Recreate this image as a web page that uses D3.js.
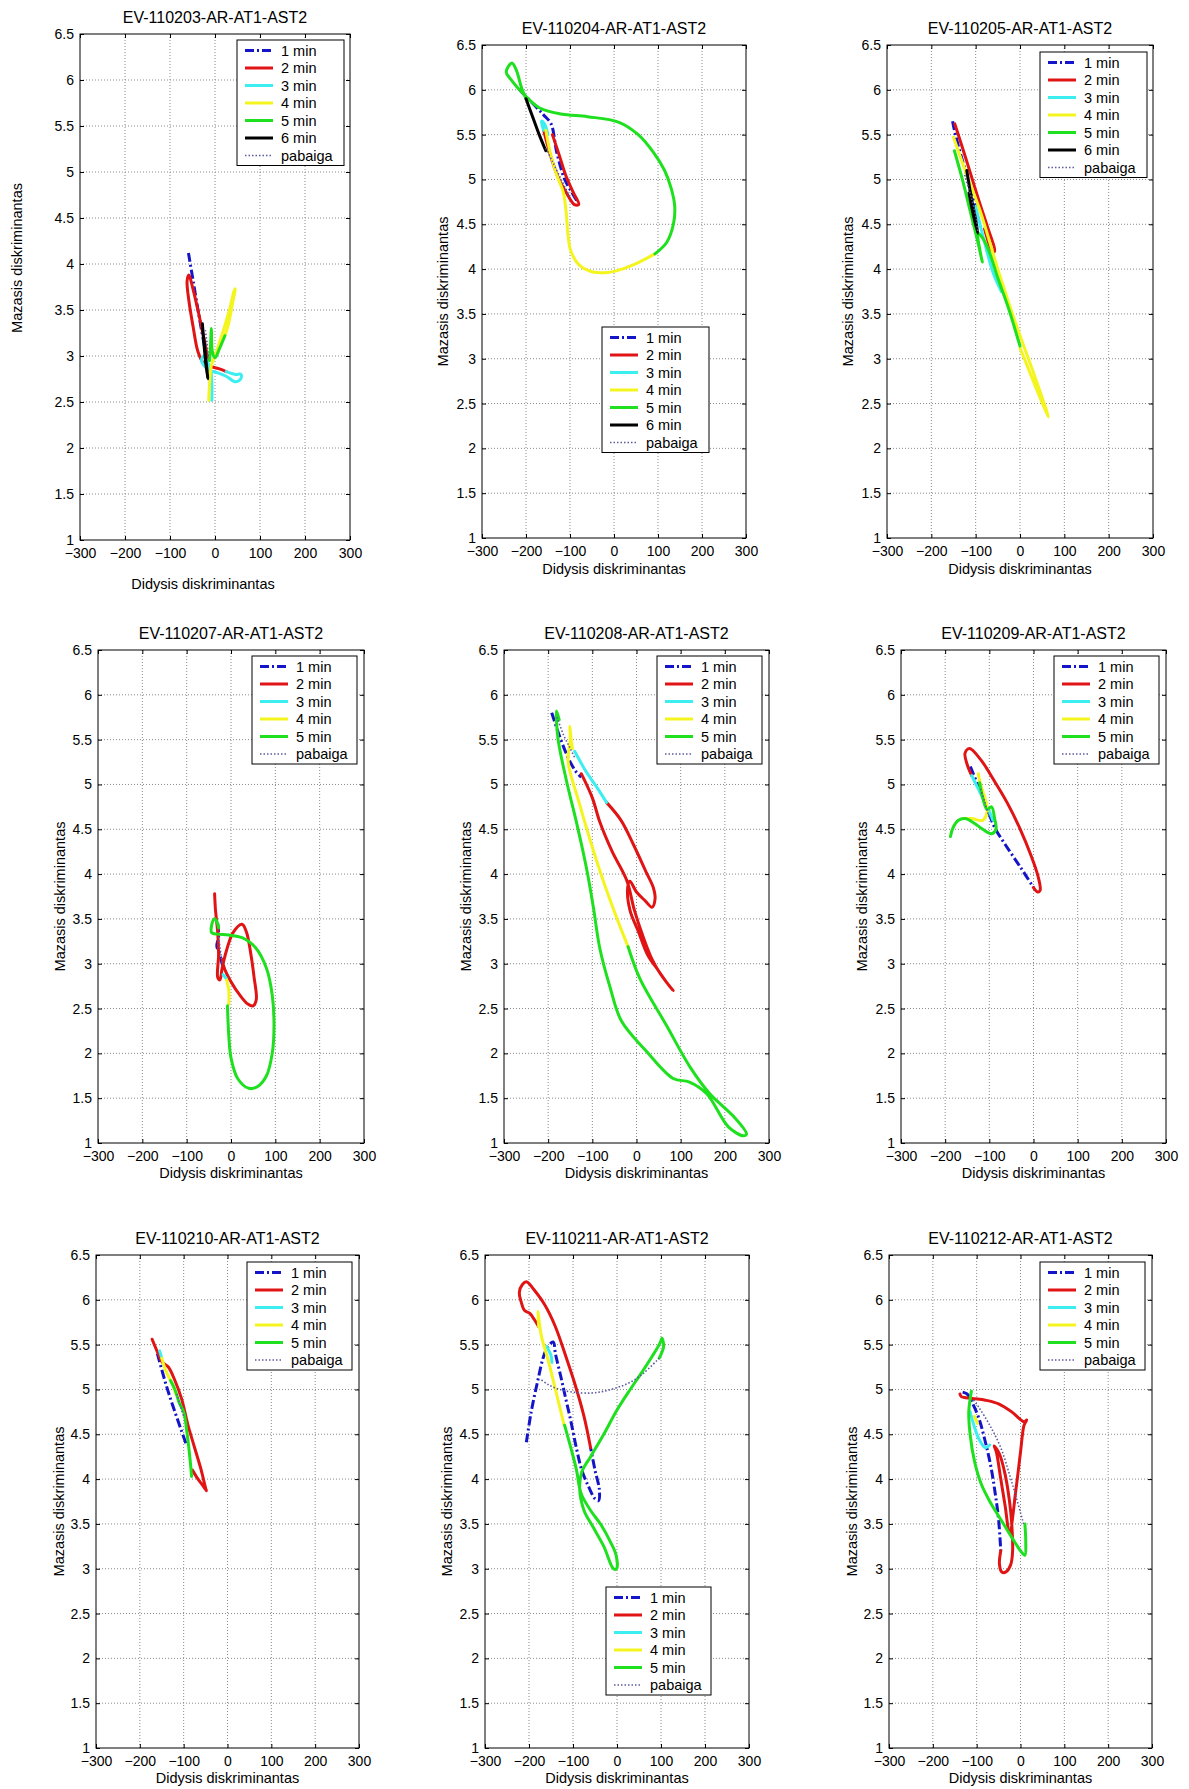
<!DOCTYPE html>
<html>
<head>
<meta charset="utf-8">
<script src="https://cdn.jsdelivr.net/npm/d3@7"></script>
<style>
  body { margin: 0; background: #fff; }
  svg { display: block; font-family: "Liberation Sans", Arial, sans-serif; }
</style>
</head>
<body>
<div id="chart"></div>
<script>
  // Axis ticks and legend labels
  var xTicks = [-300, -200, -100, 0, 100, 200, 300];
  var yTicks = [1, 1.5, 2, 2.5, 3, 3.5, 4, 4.5, 5, 5.5, 6, 6.5];
  var seriesNames = ["1 min", "2 min", "3 min", "4 min", "5 min", "6 min", "pabaiga"];
  var titles = ["EV-110203-AR-AT1-AST2", "EV-110204-AR-AT1-AST2", "EV-110205-AR-AT1-AST2",
                "EV-110207-AR-AT1-AST2", "EV-110208-AR-AT1-AST2", "EV-110209-AR-AT1-AST2",
                "EV-110210-AR-AT1-AST2", "EV-110211-AR-AT1-AST2", "EV-110212-AR-AT1-AST2"];

  // Trajectories [didysis, mazasis], one object per panel, keyed by legend name
  var ev110203 = {
    "1 min": [[-59,4.12],[-48,3.8],[-36,3.45],[-25,3.15],[-15,2.9]],
    "2 min": [[-15,2.95],[-25,3.2],[-38,3.5],[-50,3.75],[-58,3.88],[-62,3.82],[-58,3.6],[-48,3.3],[-38,3.05],[-25,2.92],[-5,2.88],[10,2.86],[25,2.83]],
    "3 min": [[25,2.83],[45,2.8],[58,2.8],[57,2.75],[45,2.72],[25,2.78],[5,2.82],[-15,2.85],[-30,2.95],[-25,3.0],[-10,2.85],[-7,2.7],[-7,2.52]],
    "4 min": [[-14,2.52],[-12,2.7],[-8,2.9],[0,3.0],[10,3.15],[20,3.3],[32,3.5],[42,3.7],[45,3.73],[38,3.55],[30,3.35],[22,3.22]],
    "5 min": [[22,3.22],[10,3.08],[0,2.98],[-6,3.05],[-8,3.3],[-10,3.1],[-12,2.95]],
    "6 min": [[-28,3.35],[-24,3.1],[-20,2.9],[-16,2.75],[-20,2.95],[-25,3.2]],
    "pabaiga": [[-15,3.0],[-18,3.15],[-22,3.3]]
  };
  var ev110204 = {
    "1 min": [[-215,6.0],[-185,5.85],[-160,5.72],[-143,5.62],[-130,5.3],[-112,5.0],[-95,4.85],[-83,4.75]],
    "2 min": [[-140,5.5],[-125,5.28],[-110,5.05],[-92,4.85],[-80,4.72],[-90,4.72],[-108,4.85],[-125,5.0],[-140,5.2],[-152,5.4],[-160,5.55]],
    "3 min": [[-160,5.55],[-165,5.65],[-158,5.62],[-150,5.5]],
    "4 min": [[-155,5.55],[-145,5.3],[-130,5.05],[-115,4.85],[-108,4.6],[-105,4.4],[-98,4.2],[-80,4.05],[-50,3.97],[-20,3.96],[5,3.98],[45,4.05],[93,4.17]],
    "5 min": [[93,4.17],[120,4.3],[135,4.5],[138,4.7],[130,4.9],[115,5.1],[90,5.3],[55,5.5],[10,5.64],[-60,5.7],[-120,5.73],[-170,5.8],[-205,5.95],[-235,6.12],[-245,6.2],[-232,6.3],[-222,6.22],[-210,6.02],[-200,5.9]],
    "6 min": [[-200,5.9],[-185,5.7],[-170,5.5],[-155,5.32]],
    "pabaiga": [[-155,5.35],[-140,5.2],[-120,5.0],[-100,4.8]]
  };
  var ev110205 = {
    "1 min": [[-152,5.65],[-148,5.55],[-135,5.3],[-120,5.05],[-100,4.7]],
    "2 min": [[-147,5.62],[-120,5.2],[-95,4.8],[-72,4.45],[-57,4.2],[-62,4.2],[-80,4.45]],
    "3 min": [[-100,4.7],[-80,4.3],[-60,3.95],[-42,3.75]],
    "4 min": [[-150,5.47],[-120,5.05],[-90,4.65],[-50,4.0],[-10,3.4],[30,2.85],[60,2.42],[64,2.35],[55,2.45],[30,2.75],[10,3.0],[0,3.12]],
    "5 min": [[0,3.14],[-25,3.55],[-50,3.9],[-70,4.2],[-85,4.35],[-95,4.4],[-90,4.2],[-85,4.08],[-95,4.3],[-110,4.6],[-130,5.0],[-148,5.32]],
    "6 min": [[-120,5.1],[-110,4.8],[-100,4.55],[-95,4.4],[-105,4.6],[-115,4.85]],
    "pabaiga": [[-125,5.05],[-110,4.8],[-98,4.55],[-95,4.4]]
  };
  var ev110207 = {
    "1 min": [[-30,3.45],[-28,3.3],[-32,3.2],[-25,3.1],[-20,3.0],[-15,2.95]],
    "2 min": [[-37,3.78],[-35,3.6],[-30,3.35],[-28,3.1],[-30,2.85],[-25,2.82],[-20,2.95],[-10,3.15],[5,3.35],[25,3.44],[35,3.35],[45,3.1],[52,2.85],[57,2.6],[50,2.53],[38,2.55],[20,2.65],[0,2.8],[-15,2.95],[-20,3.05]],
    "3 min": [[-18,2.88],[-10,2.83]],
    "4 min": [[-10,2.82],[-5,2.7],[-5,2.55]],
    "5 min": [[-8,2.53],[-5,2.2],[0,1.95],[15,1.72],[40,1.61],[60,1.63],[80,1.75],[93,2.0],[97,2.3],[93,2.65],[80,2.95],[55,3.18],[25,3.29],[-5,3.32],[-30,3.33],[-44,3.35],[-38,3.5],[-33,3.48],[-28,3.4]],
    "pabaiga": [[-28,3.3],[-24,3.15],[-20,3.0]]
  };
  var ev110208 = {
    "1 min": [[-192,5.8],[-175,5.55],[-155,5.3],[-138,5.15],[-125,5.08]],
    "2 min": [[-125,5.12],[-100,4.85],[-83,4.58],[-55,4.25],[-22,3.93],[-5,3.6],[15,3.3],[35,3.05],[55,2.88],[83,2.7],[70,2.78],[50,2.92],[25,3.1],[5,3.35],[-15,3.6],[-20,3.85],[-15,3.92],[0,3.8],[20,3.7],[35,3.63],[42,3.72],[38,3.85],[23,4.01],[-7,4.33],[-35,4.6],[-68,4.8]],
    "3 min": [[-68,4.8],[-90,4.97],[-115,5.15],[-140,5.37]],
    "4 min": [[-145,5.4],[-148,5.5],[-151,5.65],[-150,5.5],[-155,5.26],[-130,4.8],[-100,4.3],[-70,3.85],[-40,3.45],[-19,3.19]],
    "5 min": [[-19,3.19],[8,2.83],[68,2.31],[121,1.85],[166,1.55],[219,1.3],[249,1.1],[242,1.08],[208,1.18],[159,1.55],[120,1.68],[83,1.72],[23,2.02],[-34,2.36],[-60,2.74],[-83,3.17],[-98,3.64],[-113,4.06],[-136,4.58],[-159,5.05],[-178,5.52],[-181,5.82],[-175,5.72]],
    "pabaiga": [[-180,5.75],[-165,5.55],[-150,5.4],[-140,5.3]]
  };
  var ev110209 = {
    "1 min": [[-143,5.2],[-120,4.92],[-100,4.67],[-88,4.52],[-60,4.3],[-30,4.08],[0,3.85]],
    "2 min": [[0,3.85],[10,3.8],[15,3.82],[10,3.98],[-5,4.2],[-30,4.5],[-60,4.8],[-90,5.05],[-120,5.28],[-145,5.4],[-155,5.35],[-150,5.22],[-140,5.1]],
    "3 min": [[-140,5.1],[-120,4.9],[-100,4.7],[-92,4.6]],
    "4 min": [[-125,5.12],[-120,5.0],[-110,4.85],[-105,4.7],[-115,4.6],[-140,4.62],[-160,4.62]],
    "5 min": [[-122,5.02],[-115,4.85],[-105,4.72],[-95,4.75],[-88,4.62],[-85,4.5],[-95,4.45],[-115,4.5],[-135,4.57],[-155,4.62],[-170,4.6],[-182,4.52],[-188,4.42]],
    "pabaiga": [[-120,4.95],[-110,4.8],[-100,4.62]]
  };
  var ev110210 = {
    "1 min": [[-160,5.4],[-140,5.05],[-120,4.75],[-95,4.4]],
    "2 min": [[-172,5.56],[-160,5.42],[-148,5.3],[-135,5.25],[-120,5.1],[-105,4.9],[-90,4.6],[-75,4.35],[-60,4.1],[-50,3.9],[-48,3.87],[-55,3.92],[-70,4.02],[-80,4.1]],
    "3 min": [[-155,5.43],[-150,5.35]],
    "4 min": [[-150,5.35],[-140,5.2],[-125,5.05],[-118,4.95]],
    "5 min": [[-130,5.1],[-120,5.0],[-110,4.85],[-100,4.75],[-92,4.5],[-85,4.2],[-82,4.03]],
    "pabaiga": [[-115,4.95],[-108,4.82],[-100,4.7]]
  };
  var ev110211 = {
    "1 min": [[-206,4.41],[-195,4.75],[-180,5.1],[-168,5.35],[-158,5.47],[-145,5.53],[-140,5.4],[-128,5.15],[-118,4.93],[-105,4.65],[-92,4.34],[-80,4.1],[-65,3.92],[-50,3.78],[-42,3.76],[-40,3.88],[-50,4.1],[-60,4.35]],
    "2 min": [[-60,4.35],[-75,4.7],[-95,5.05],[-115,5.35],[-140,5.7],[-165,5.95],[-190,6.12],[-205,6.2],[-215,6.17],[-222,6.08],[-218,5.98],[-210,5.88],[-198,5.85],[-188,5.78],[-178,5.7]],
    "3 min": [[-160,5.48],[-150,5.38],[-148,5.3]],
    "4 min": [[-178,5.7],[-180,5.87],[-172,5.6],[-155,5.3],[-140,5.0],[-120,4.6]],
    "5 min": [[-119,4.6],[-105,4.35],[-92,4.1],[-85,3.9],[-80,3.82],[-60,3.65],[-35,3.48],[-15,3.3],[-2,3.15],[-1,3.0],[-8,3.0],[-30,3.25],[-55,3.47],[-75,3.65],[-85,3.9],[-80,4.08],[-60,4.25],[-30,4.5],[0,4.77],[30,5.0],[55,5.18],[80,5.37],[98,5.52],[102,5.57],[106,5.48],[96,5.35]],
    "pabaiga": [[96,5.35],[60,5.18],[30,5.08],[0,5.02],[-30,4.98],[-60,4.96],[-100,4.97],[-130,5.0],[-155,5.05],[-175,5.12]]
  };
  var ev110212 = {
    "1 min": [[-132,4.97],[-122,4.95],[-110,4.85],[-95,4.68],[-82,4.45],[-68,4.15],[-58,3.85],[-50,3.55],[-45,3.2]],
    "2 min": [[-45,3.2],[-48,3.05],[-42,2.96],[-32,2.97],[-22,3.05],[-18,3.2],[-20,3.5],[-25,3.75],[-35,4.05],[-48,4.28],[-60,4.37],[-55,4.3],[-45,4.0],[-35,3.7],[-25,3.4],[-10,3.9],[0,4.3],[8,4.6],[14,4.66],[8,4.64],[-20,4.75],[-50,4.84],[-80,4.88],[-110,4.9],[-135,4.92],[-138,4.95]],
    "3 min": [[-115,4.75],[-105,4.58],[-95,4.45],[-80,4.35],[-70,4.38]],
    "4 min": [[-105,4.7],[-98,4.62]],
    "5 min": [[-112,4.98],[-118,4.75],[-115,4.5],[-105,4.2],[-90,3.95],[-70,3.75],[-45,3.55],[-20,3.35],[0,3.2],[10,3.15],[12,3.3],[10,3.5]],
    "pabaiga": [[7,3.5],[-10,3.8],[-25,4.05],[-45,4.35],[-70,4.6],[-95,4.8],[-110,4.9]]
  };

  // Line styles per series
  var styles = {
    "1 min":   { color: "#1414c8", width: 3,   dash: "9,3,2,3" },
    "2 min":   { color: "#e01414", width: 3,   dash: null },
    "3 min":   { color: "#3ceef0", width: 3,   dash: null },
    "4 min":   { color: "#f4f41e", width: 3,   dash: null },
    "5 min":   { color: "#1ee01e", width: 3,   dash: null },
    "6 min":   { color: "#000000", width: 3,   dash: null },
    "pabaiga": { color: "#5a5a9c", width: 1.6, dash: "1.5,2" }
  };

  // Panel layout (plot box in page pixels, label offsets, legend placement)
  var panels = [
    { data: ev110203, l: 80,  r: 350,  t: 34,   b: 540,  xlabY: 584,  xlabDx: -12, ylabX: 17,  ylabY: 258, legend: { right: 6, top: 6 } },
    { data: ev110204, l: 482, r: 746,  t: 45,   b: 538,  xlabY: 569,  ylabX: 443, legend: { x: 602, y: 327 } },
    { data: ev110205, l: 887, r: 1153, t: 45,   b: 538,  xlabY: 569,  ylabX: 848, legend: { right: 6, top: 7 } },
    { data: ev110207, l: 98,  r: 364,  t: 650,  b: 1143, xlabY: 1173, ylabX: 60,  legend: { right: 7, top: 6 } },
    { data: ev110208, l: 504, r: 769,  t: 650,  b: 1143, xlabY: 1173, ylabX: 466, legend: { right: 7, top: 6 } },
    { data: ev110209, l: 901, r: 1166, t: 650,  b: 1143, xlabY: 1173, ylabX: 862, legend: { right: 7, top: 6 } },
    { data: ev110210, l: 96,  r: 359,  t: 1255, b: 1748, xlabY: 1778, ylabX: 59,  legend: { right: 7, top: 7 } },
    { data: ev110211, l: 485, r: 749,  t: 1255, b: 1748, xlabY: 1778, ylabX: 447, legend: { x: 606, y: 1587 } },
    { data: ev110212, l: 889, r: 1152, t: 1255, b: 1748, xlabY: 1778, ylabX: 852, legend: { right: 7, top: 7 } }
  ];

  var svg = d3.select("#chart").append("svg")
      .attr("width", 1189)
      .attr("height", 1789);

  function drawPanel(p, title) {
    var x = d3.scaleLinear().domain([-300, 300]).range([p.l, p.r]);
    var y = d3.scaleLinear().domain([1, 6.5]).range([p.b, p.t]);
    var g = svg.append("g");

    // dotted grid
    g.selectAll("line.gx").data(xTicks.slice(1, -1)).enter().append("line")
      .attr("x1", function(d) { return x(d); }).attr("x2", function(d) { return x(d); })
      .attr("y1", p.t).attr("y2", p.b)
      .attr("stroke", "#8a8a8a").attr("stroke-width", 1).attr("stroke-dasharray", "1,2");
    g.selectAll("line.gy").data(yTicks.slice(1, -1)).enter().append("line")
      .attr("y1", function(d) { return y(d); }).attr("y2", function(d) { return y(d); })
      .attr("x1", p.l).attr("x2", p.r)
      .attr("stroke", "#8a8a8a").attr("stroke-width", 1).attr("stroke-dasharray", "1,2");

    // axes with inward ticks on all four sides
    var tickLen = 4;
    g.append("g").attr("transform", "translate(0," + p.b + ")")
      .call(d3.axisBottom(x).tickValues(xTicks).tickSizeInner(-tickLen).tickSizeOuter(0).tickPadding(8).tickFormat(d3.format("d")));
    g.append("g").attr("transform", "translate(0," + p.t + ")")
      .call(d3.axisTop(x).tickValues(xTicks).tickSizeInner(-tickLen).tickSizeOuter(0).tickFormat(""));
    g.append("g").attr("transform", "translate(" + p.l + ",0)")
      .call(d3.axisLeft(y).tickValues(yTicks).tickSizeInner(-tickLen).tickSizeOuter(0).tickPadding(6).tickFormat(d3.format("")));
    g.append("g").attr("transform", "translate(" + p.r + ",0)")
      .call(d3.axisRight(y).tickValues(yTicks).tickSizeInner(-tickLen).tickSizeOuter(0).tickFormat(""));
    g.selectAll(".domain").remove();
    g.selectAll(".tick line").attr("stroke", "#000");
    g.selectAll(".tick text").attr("font-size", 14).attr("fill", "#000")
      .attr("font-family", "Liberation Sans, Arial, sans-serif");

    g.append("rect")
      .attr("x", p.l).attr("y", p.t).attr("width", p.r - p.l).attr("height", p.b - p.t)
      .attr("fill", "none").attr("stroke", "#000").attr("stroke-width", 1);

    // trajectories
    var line = d3.line()
      .x(function(d) { return x(d[0]); })
      .y(function(d) { return y(d[1]); })
      .curve(d3.curveCatmullRom.alpha(0.5));
    var names = seriesNames.filter(function(n) { return p.data[n]; });
    names.forEach(function(n) {
      var st = styles[n];
      g.append("path")
        .attr("d", line(p.data[n]))
        .attr("fill", "none")
        .attr("stroke", st.color)
        .attr("stroke-width", st.width)
        .attr("stroke-linejoin", "round")
        .attr("stroke-linecap", st.dash ? "butt" : "round")
        .attr("stroke-dasharray", st.dash);
    });

    // title and labels
    var cx = (p.l + p.r) / 2;
    g.append("text").attr("x", cx).attr("y", p.t - 11.5)
      .attr("text-anchor", "middle").attr("font-size", 16).text(title);
    g.append("text").attr("x", cx + (p.xlabDx || 0)).attr("y", p.xlabY + 5)
      .attr("text-anchor", "middle").attr("font-size", 14.5).text("Didysis diskriminantas");
    var ly = p.ylabY || (p.t + p.b) / 2;
    g.append("text")
      .attr("transform", "translate(" + (p.ylabX + 5) + "," + ly + ") rotate(-90)")
      .attr("text-anchor", "middle").attr("font-size", 14.5).text("Mazasis diskriminantas");

    // legend
    var rowH = 17.5, lw = names.length === 7 ? 107 : 105;
    var lh = names.length * rowH + 3;
    var lx = p.legend.x !== undefined ? p.legend.x : p.r - p.legend.right - lw;
    var lyTop = p.legend.y !== undefined ? p.legend.y : p.t + p.legend.top;
    var lg = g.append("g").attr("transform", "translate(" + lx + "," + lyTop + ")");
    lg.append("rect").attr("width", lw).attr("height", lh)
      .attr("fill", "#fff").attr("stroke", "#000").attr("stroke-width", 1);
    names.forEach(function(n, i) {
      var st = styles[n];
      var yy = 10.5 + i * rowH;
      lg.append("line").attr("x1", 8).attr("x2", 36).attr("y1", yy).attr("y2", yy)
        .attr("stroke", st.color).attr("stroke-width", st.width)
        .attr("stroke-dasharray", st.dash);
      lg.append("text").attr("x", 44).attr("y", yy + 5)
        .attr("font-size", 14.5).text(n);
    });
  }

  panels.forEach(function(p, i) { drawPanel(p, titles[i]); });
</script>
</body>
</html>
